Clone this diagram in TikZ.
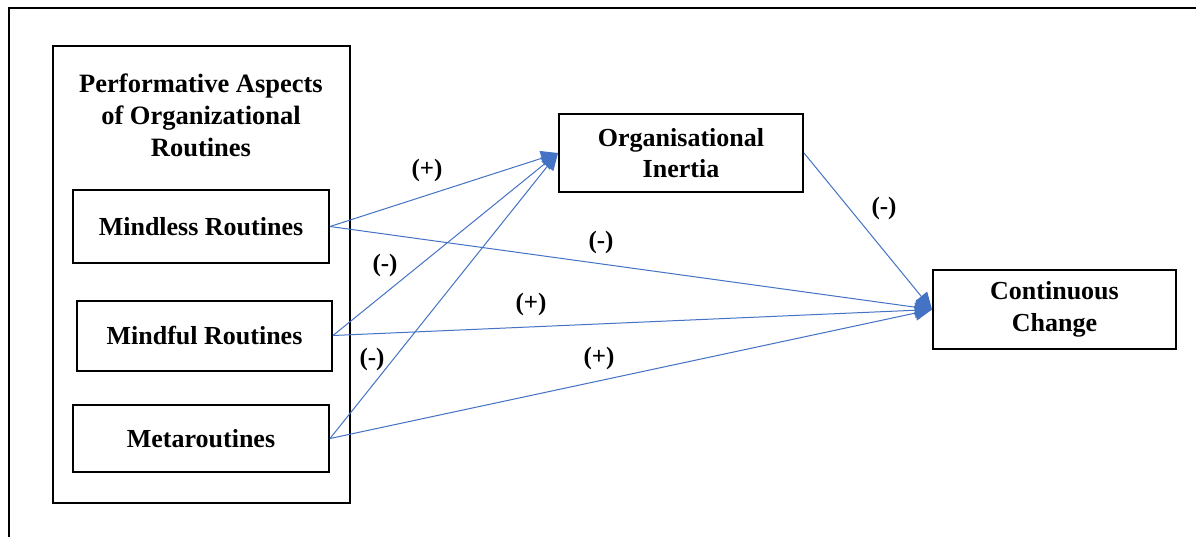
\documentclass[tikz,border=0pt]{standalone}
\usepackage{fontspec}
\setmainfont{Liberation Serif}
\usetikzlibrary{arrows.meta}
\definecolor{linkblue}{HTML}{4472C4}
\begin{document}
\begin{tikzpicture}[x=1pt,y=-1pt,
  box/.style={draw=black,line width=2pt,rectangle,inner sep=0pt,align=center,
    font=\fontsize{26}{31.5}\selectfont\bfseries},
  lbl/.style={inner sep=0pt,font=\fontsize{25}{30}\selectfont\bfseries},
  link/.style={draw=linkblue,line width=1pt,-{Triangle[length=17pt,width=15pt]}}]
\useasboundingbox (0,0) rectangle (1196,536);
\fill[white] (0,0) rectangle (1196,536);
\draw[line width=2.6pt] (9,540) -- (9,8) -- (1200,8);
\node[box,minimum width=297pt,minimum height=457pt] (group) at (201.5,274.5) {};
\node[align=center,inner sep=0pt,font=\fontsize{26.5}{32}\selectfont\bfseries] (title) at (201,115) {Performative Aspects\\of Organizational\\Routines};
\node[box,minimum width=256pt,minimum height=73pt] (mindless) at (201,226.5) {Mindless Routines};
\node[box,minimum width=255pt,minimum height=70pt] (mindful) at (204.5,335.5) {Mindful Routines};
\node[box,minimum width=256pt,minimum height=67pt] (meta) at (201,438.5) {Metaroutines};
\node[box,minimum width=244pt,minimum height=78pt] (inertia) at (681,153) {Organisational\\Inertia};
\node[box,minimum width=243pt,minimum height=79pt] (change) at (1054.5,309.5) {Continuous\\Change};
\draw[link] (mindless.east) -- (inertia.west);
\draw[link] (mindful.east) -- (inertia.west);
\draw[link] (meta.east) -- (inertia.west);
\draw[link] (mindless.east) -- (change.west);
\draw[link] (mindful.east) -- (change.west);
\draw[link] (meta.east) -- (change.west);
\draw[link] (inertia.east) -- (change.west);
\node[lbl] (l1) at (427,170) {(+)};
\node[lbl] (l2) at (385,265) {(-)};
\node[lbl] (l3) at (372,359) {(-)};
\node[lbl] (l4) at (601,242) {(-)};
\node[lbl] (l5) at (531,304) {(+)};
\node[lbl] (l6) at (599,358) {(+)};
\node[lbl] (l7) at (884,208) {(-)};
\end{tikzpicture}
\end{document}
